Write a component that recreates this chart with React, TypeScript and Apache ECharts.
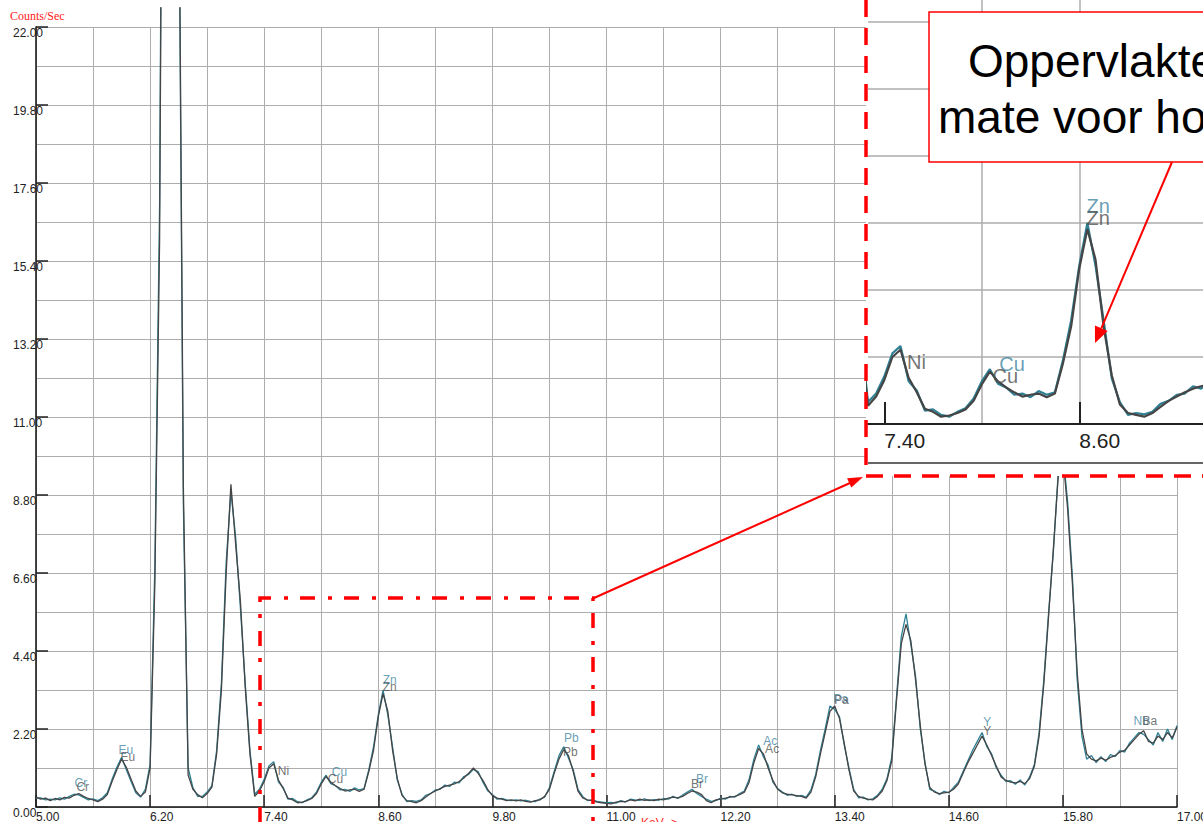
import React, { useEffect, useRef } from "react";
import * as echarts from "echarts";

// ---- data (counts/sec sampled every 0.05 keV from 5.00 keV) ----
const energyStart = 5.0;
const energyStep = 0.05;

const darkCounts = [
  0.28, 0.22, 0.25, 0.18, 0.24, 0.2, 0.27, 0.25, 0.33, 0.38,
  0.3, 0.24, 0.2, 0.15, 0.22, 0.35, 0.72, 1.05, 1.35, 1.12,
  0.78, 0.45, 0.3, 0.42, 1.1, 6.3, 16.0, 40.0, 46.0, 42.0,
  28.0, 9.0, 0.9, 0.5, 0.35, 0.26, 0.38, 0.56, 1.5, 3.3,
  6.6, 9.1, 7.4, 5.8, 3.4, 1.5, 0.3, 0.45, 0.72, 1.1,
  1.22, 0.76, 0.52, 0.25, 0.2, 0.12, 0.14, 0.18, 0.24, 0.38,
  0.65, 0.86, 0.7, 0.6, 0.52, 0.45, 0.48, 0.5, 0.44, 0.5,
  1.0, 1.6, 2.55, 3.2, 2.7, 1.6, 0.8, 0.32, 0.18, 0.15,
  0.12, 0.18, 0.28, 0.38, 0.45, 0.52, 0.58, 0.62, 0.65, 0.72,
  0.82, 0.95, 1.1, 0.95, 0.75, 0.5, 0.32, 0.25, 0.22, 0.18,
  0.2, 0.17, 0.2, 0.16, 0.14, 0.18, 0.2, 0.3, 0.5, 0.95,
  1.35, 1.62, 1.45, 1.0, 0.45, 0.26, 0.2, 0.18, 0.14, 0.12,
  0.1, 0.09, 0.14, 0.16, 0.15, 0.2, 0.17, 0.22, 0.19, 0.2,
  0.18, 0.22, 0.2, 0.25, 0.28, 0.26, 0.3, 0.38, 0.45, 0.42,
  0.35, 0.18, 0.12, 0.2, 0.22, 0.25, 0.28, 0.3, 0.35, 0.42,
  0.7, 1.25, 1.65, 1.5, 1.1, 0.75, 0.5, 0.4, 0.36, 0.34,
  0.32, 0.3, 0.25, 0.42, 0.85, 1.5, 2.1, 2.7, 2.85, 2.5,
  1.8, 1.05, 0.45, 0.3, 0.25, 0.22, 0.2, 0.3, 0.45, 0.75,
  1.3, 3.0, 4.6, 5.15, 4.7, 3.6, 2.3, 1.2, 0.55, 0.42,
  0.38, 0.4, 0.42, 0.5, 0.65, 0.95, 1.25, 1.5, 1.75, 2.0,
  1.75, 1.45, 1.15, 0.85, 0.75, 0.7, 0.68, 0.72, 0.66, 0.8,
  1.15, 2.0, 3.5, 5.4, 7.3, 9.3, 9.9, 8.4, 6.3, 3.8,
  2.2, 1.5, 1.35, 1.3, 1.38, 1.32, 1.4, 1.45, 1.55, 1.6,
  1.75, 1.9, 2.05, 2.15, 1.85, 1.8, 2.0, 1.9, 2.1, 1.95,
  2.25,
];

const tealCounts = [
  0.25, 0.26, 0.2, 0.22, 0.2, 0.26, 0.22, 0.3, 0.36, 0.34,
  0.27, 0.2, 0.23, 0.18, 0.26, 0.4, 0.78, 1.12, 1.4, 1.05,
  0.72, 0.4, 0.28, 0.5, 1.2, 6.8, 17.0, 41.0, 47.0, 41.0,
  27.0, 8.5, 1.1, 0.55, 0.3, 0.3, 0.42, 0.6, 1.6, 3.5,
  6.9, 8.9, 7.6, 5.6, 3.5, 1.6, 0.36, 0.5, 0.78, 1.16,
  1.28, 0.7, 0.55, 0.22, 0.24, 0.15, 0.12, 0.2, 0.26, 0.42,
  0.7, 0.9, 0.66, 0.6, 0.48, 0.5, 0.44, 0.54, 0.48, 0.52,
  1.05, 1.7, 2.6, 3.3, 2.6, 1.7, 0.75, 0.36, 0.15, 0.18,
  0.16, 0.2, 0.33, 0.38, 0.48, 0.5, 0.62, 0.58, 0.7, 0.68,
  0.86, 0.92, 1.06, 1.0, 0.7, 0.46, 0.35, 0.22, 0.24, 0.2,
  0.18, 0.2, 0.17, 0.19, 0.16, 0.15, 0.22, 0.28, 0.55, 1.0,
  1.45, 1.7, 1.38, 1.05, 0.5, 0.3, 0.18, 0.2, 0.16, 0.14,
  0.12, 0.13, 0.11, 0.18, 0.14, 0.22, 0.2, 0.19, 0.23, 0.18,
  0.21, 0.19, 0.24, 0.22, 0.3, 0.24, 0.34, 0.42, 0.5, 0.38,
  0.3, 0.22, 0.16, 0.18, 0.25, 0.22, 0.3, 0.28, 0.38, 0.45,
  0.78, 1.35, 1.75, 1.42, 1.18, 0.7, 0.52, 0.42, 0.33, 0.36,
  0.3, 0.33, 0.28, 0.48, 0.92, 1.6, 2.2, 2.85, 2.75, 2.55,
  1.75, 1.1, 0.5, 0.26, 0.28, 0.2, 0.23, 0.33, 0.5, 0.8,
  1.4, 3.1, 4.8, 5.45, 4.6, 3.7, 2.2, 1.25, 0.5, 0.45,
  0.35, 0.44, 0.4, 0.55, 0.7, 1.0, 1.3, 1.6, 1.85, 2.1,
  1.7, 1.5, 1.1, 0.9, 0.72, 0.74, 0.64, 0.76, 0.62, 0.85,
  1.2, 2.1, 3.6, 5.5, 7.2, 9.4, 10.0, 8.6, 6.5, 3.6,
  2.0, 1.35, 1.45, 1.25, 1.42, 1.28, 1.48, 1.42, 1.6, 1.55,
  1.8, 1.95, 2.1, 2.05, 1.9, 1.75, 2.1, 1.85, 2.2, 1.9,
  2.3,
];

// peak identification labels (energy keV, counts/sec)
const tealLabelNames = ["Cr", "Eu", "Cu", "Zn", "Pb", "Br", "Ac", "Pa", "Y", "Nb"];
const tealLabelX = [5.4, 5.863, 8.105, 8.642, 10.547, 11.937, 12.642, 13.38, 14.958, 16.537];
const tealLabelY = [0.68, 1.61, 0.99, 3.58, 1.95, 0.79, 1.86, 3.05, 2.4, 2.43];

const darkLabelNames = ["Cr", "Eu", "Ni", "Cu", "Zn", "Pb", "Br", "Ac", "Pa", "Y", "Ba"];
const darkLabelX = [5.42, 5.884, 7.537, 8.063, 8.642, 10.537, 11.884, 12.663, 13.389, 14.958, 16.632];
const darkLabelY = [0.56, 1.41, 1.02, 0.79, 3.38, 1.55, 0.65, 1.64, 3.02, 2.14, 2.43];

// axis ranges / ticks
const mainXMin = 5.0;
const mainXMax = 17.0;
const mainXInterval = 1.2;
const mainYMax = 22.0;
const mainYInterval = 2.2;
const insetXMin = 7.3;
const insetXMax = 9.3615;
const insetYMax = 6.962;
const insetGridTicks = [7.4, 8.0, 8.6, 9.2];
const insetLabelTicks = [7.4, 8.6];

const calloutLine1 = "Oppervlakte";
const calloutLine2 = "mate voor ho";
const yUnit = "Counts/Sec";
const xUnit = "KeV ->";

const SANS = 'Arial, "Liberation Sans", Helvetica, sans-serif';
const SERIF = '"Times New Roman", "Liberation Serif", serif';
const TEAL = "#2f8095";
const DARK = "#454545";
const GRIDC = "#adadad";
const RED = "#ff0000";

function toPairs(vals: number[]) {
  return vals.map((v, i) => [+(energyStart + i * energyStep).toFixed(2), v]);
}
function labelTriples(names: string[], xs: number[], ys: number[], lo = -Infinity, hi = Infinity) {
  const out: any[] = [];
  names.forEach((n, i) => {
    if (xs[i] >= lo && xs[i] <= hi) out.push([xs[i], ys[i], n]);
  });
  return out;
}

export default function App() {
  const ref = useRef<HTMLDivElement>(null);
  useEffect(() => {
    if (!ref.current) return;
    const chart = echarts.init(ref.current, undefined, { renderer: "svg" });
    const darkData = toPairs(darkCounts);
    const tealData = toPairs(tealCounts);
    const fmt = (v: number) => v.toFixed(2);

    const labelSeries = (data: any[], color: string, xi: number, yi: number, size: number, z: number) => ({
      type: "scatter",
      xAxisIndex: xi,
      yAxisIndex: yi,
      data,
      symbolSize: 1,
      itemStyle: { color: "rgba(0,0,0,0)" },
      silent: true,
      z,
      label: {
        show: true,
        position: "right",
        distance: 0,
        formatter: (p: any) => p.data[2],
        color,
        fontSize: size,
        fontFamily: SANS,
      },
    });

    const option: any = {
      animation: false,
      backgroundColor: "#ffffff",
      grid: [
        { left: 36, top: 27, width: 1141, height: 780, containLabel: false, outerBoundsMode: "none" },
        { left: 36, top: 8, width: 1141, height: 799, containLabel: false, outerBoundsMode: "none" },
        { left: 868, top: 0, width: 335, height: 424, containLabel: false, outerBoundsMode: "none" },
      ],
      xAxis: [
        {
          gridIndex: 0,
          type: "value",
          position: "bottom",
          min: mainXMin,
          max: mainXMax,
          interval: mainXInterval,
          axisLine: { show: true, onZero: false, lineStyle: { color: "#111", width: 1.5 } },
          axisTick: { show: true, inside: true, length: 12, lineStyle: { color: "#222", width: 1.5 } },
          axisLabel: {
            show: true,
            formatter: fmt,
            align: "left",
            alignMinLabel: "left",
            alignMaxLabel: "left",
            margin: 4,
            fontSize: 12,
            fontFamily: SANS,
            color: "#222",
            showMinLabel: true,
            showMaxLabel: true,
            hideOverlap: false,
          },
          splitLine: { show: true, lineStyle: { color: GRIDC, width: 1 } },
          minorTick: { show: false, splitNumber: 2 },
          minorSplitLine: { show: true, lineStyle: { color: GRIDC, width: 1 } },
        },
        { gridIndex: 1, type: "value", position: "bottom", min: mainXMin, max: mainXMax, show: false },
        {
          gridIndex: 2,
          type: "value",
          position: "bottom",
          min: insetXMin,
          max: insetXMax,
          z: 6,
          axisLine: { show: false },
          axisTick: { show: false, customValues: insetGridTicks },
          axisLabel: { show: false },
          splitLine: { show: true, showMinLine: false, showMaxLine: false, lineStyle: { color: GRIDC, width: 1.5 } },
        },
        {
          gridIndex: 2,
          type: "value",
          position: "bottom",
          offset: 0,
          min: insetXMin,
          max: insetXMax,
          z: 7,
          axisLine: { show: true, onZero: false, lineStyle: { color: "#222", width: 2 } },
          axisTick: { show: true, inside: true, length: 22, customValues: insetLabelTicks, lineStyle: { color: "#222", width: 2 } },
          axisLabel: {
            show: true,
            customValues: insetLabelTicks,
            formatter: fmt,
            align: "left",
            alignMinLabel: "left",
            alignMaxLabel: "left",
            margin: 6,
            fontSize: 21,
            fontFamily: SANS,
            color: "#222",
          },
          splitLine: { show: false },
        },
      ],
      yAxis: [
        {
          gridIndex: 0,
          type: "value",
          position: "left",
          min: 0,
          max: mainYMax,
          interval: mainYInterval,
          axisLine: { show: true, onZero: false, lineStyle: { color: "#111", width: 1.5 } },
          axisTick: { show: true, inside: true, length: 12, lineStyle: { color: "#222", width: 1.5 } },
          axisLabel: {
            show: true,
            formatter: fmt,
            align: "left",
            verticalAlign: "top",
            margin: 23,
            fontSize: 12,
            fontFamily: SANS,
            color: "#222",
            showMinLabel: true,
            showMaxLabel: true,
          },
          splitLine: { show: true, lineStyle: { color: GRIDC, width: 1 } },
          minorTick: { show: false, splitNumber: 2 },
          minorSplitLine: { show: true, lineStyle: { color: GRIDC, width: 1 } },
        },
        { gridIndex: 1, type: "value", position: "left", min: 0, max: 22.536, show: false },
        {
          gridIndex: 2,
          type: "value",
          position: "left",
          min: 0,
          max: insetYMax,
          interval: 1.1,
          z: 6,
          axisLine: { show: false },
          axisTick: { show: false },
          axisLabel: { show: false },
          splitLine: { show: true, showMinLine: false, showMaxLine: false, lineStyle: { color: GRIDC, width: 1.5 } },
        },
      ],
      series: [
        {
          type: "line",
          xAxisIndex: 1,
          yAxisIndex: 1,
          data: tealData,
          symbol: "none",
          showSymbol: false,
          clip: true,
          z: 2,
          lineStyle: { color: TEAL, width: 1.3 },
          silent: true,
        },
        {
          type: "line",
          xAxisIndex: 1,
          yAxisIndex: 1,
          data: darkData,
          symbol: "none",
          showSymbol: false,
          clip: true,
          z: 3,
          lineStyle: { color: DARK, width: 1.3 },
          silent: true,
        },
        labelSeries(labelTriples(tealLabelNames, tealLabelX, tealLabelY), "#3f86a3", 1, 1, 12, 4),
        labelSeries(labelTriples(darkLabelNames, darkLabelX, darkLabelY), "#505050", 1, 1, 12, 4),
        {
          type: "line",
          xAxisIndex: 2,
          yAxisIndex: 2,
          data: tealData,
          symbol: "none",
          showSymbol: false,
          clip: true,
          z: 8,
          lineStyle: { color: TEAL, width: 2.2 },
          silent: true,
        },
        {
          type: "line",
          xAxisIndex: 2,
          yAxisIndex: 2,
          data: darkData,
          symbol: "none",
          showSymbol: false,
          clip: true,
          z: 9,
          lineStyle: { color: DARK, width: 2.2 },
          silent: true,
        },
        labelSeries(labelTriples(tealLabelNames, tealLabelX, tealLabelY, insetXMin, insetXMax), "#3f86a3", 2, 2, 20, 10),
        labelSeries(labelTriples(darkLabelNames, darkLabelX, darkLabelY, insetXMin, insetXMax), "#505050", 2, 2, 20, 10),
      ],
      graphic: {
        elements: [
          { type: "text", x: 10, y: 16, z: 20, style: { text: yUnit, fill: "#ff2020", fontSize: 12, fontFamily: SERIF, verticalAlign: "middle", align: "left" } },
          { type: "text", x: 641, y: 817, z: 20, style: { text: xUnit, fill: "#ff3030", fontSize: 12, fontFamily: SANS, verticalAlign: "top", align: "left" } },
          // white background of the magnified inset
          { type: "rect", z: 5, silent: true, shape: { x: 866, y: 0, width: 337, height: 476 }, style: { fill: "#ffffff", stroke: null } },
          { type: "line", z: 11, shape: { x1: 868, y1: 463, x2: 1203, y2: 463 }, style: { stroke: "#333", lineWidth: 1.5 } },
          // inset dashed border
          { type: "polyline", z: 20, shape: { points: [[866, 0], [866, 476], [1203, 476]] }, style: { stroke: RED, lineWidth: 3.5, lineDash: [17, 11], fill: null } },
          // dash-dot zoom region
          { type: "polyline", z: 20, shape: { points: [[260, 822], [260, 598], [593, 598], [593, 822]] }, style: { stroke: RED, lineWidth: 3.5, lineDash: [15, 13, 4, 12], fill: null } },
          // connector arrow
          { type: "line", z: 20, shape: { x1: 594, y1: 598, x2: 850, y2: 483 }, style: { stroke: RED, lineWidth: 2 } },
          { type: "polygon", z: 20, shape: { points: [[863, 477], [851.3, 487.4], [847.1, 478.2]] }, style: { fill: RED } },
          // callout
          { type: "rect", z: 20, shape: { x: 929, y: 12, width: 300, height: 150 }, style: { fill: "#ffffff", stroke: RED, lineWidth: 1.5 } },
          { type: "text", x: 968, y: 61, z: 21, style: { text: calloutLine1, fill: "#000", fontSize: 46, fontFamily: SANS, verticalAlign: "middle", align: "left" } },
          { type: "text", x: 938, y: 117, z: 21, style: { text: calloutLine2, fill: "#000", fontSize: 46, fontFamily: SANS, verticalAlign: "middle", align: "left" } },
          { type: "line", z: 20, shape: { x1: 1172, y1: 162, x2: 1101.3, y2: 328.3 }, style: { stroke: RED, lineWidth: 2 } },
          { type: "polygon", z: 20, shape: { points: [[1095, 343], [1107.7, 331.0], [1094.9, 325.6]] }, style: { fill: RED } },
        ],
      },
    };
    chart.setOption(option);
    return () => chart.dispose();
  }, []);
  return <div ref={ref} style={{ position: "absolute", left: 0, top: 0, width: 1203, height: 822 }} />;
}
